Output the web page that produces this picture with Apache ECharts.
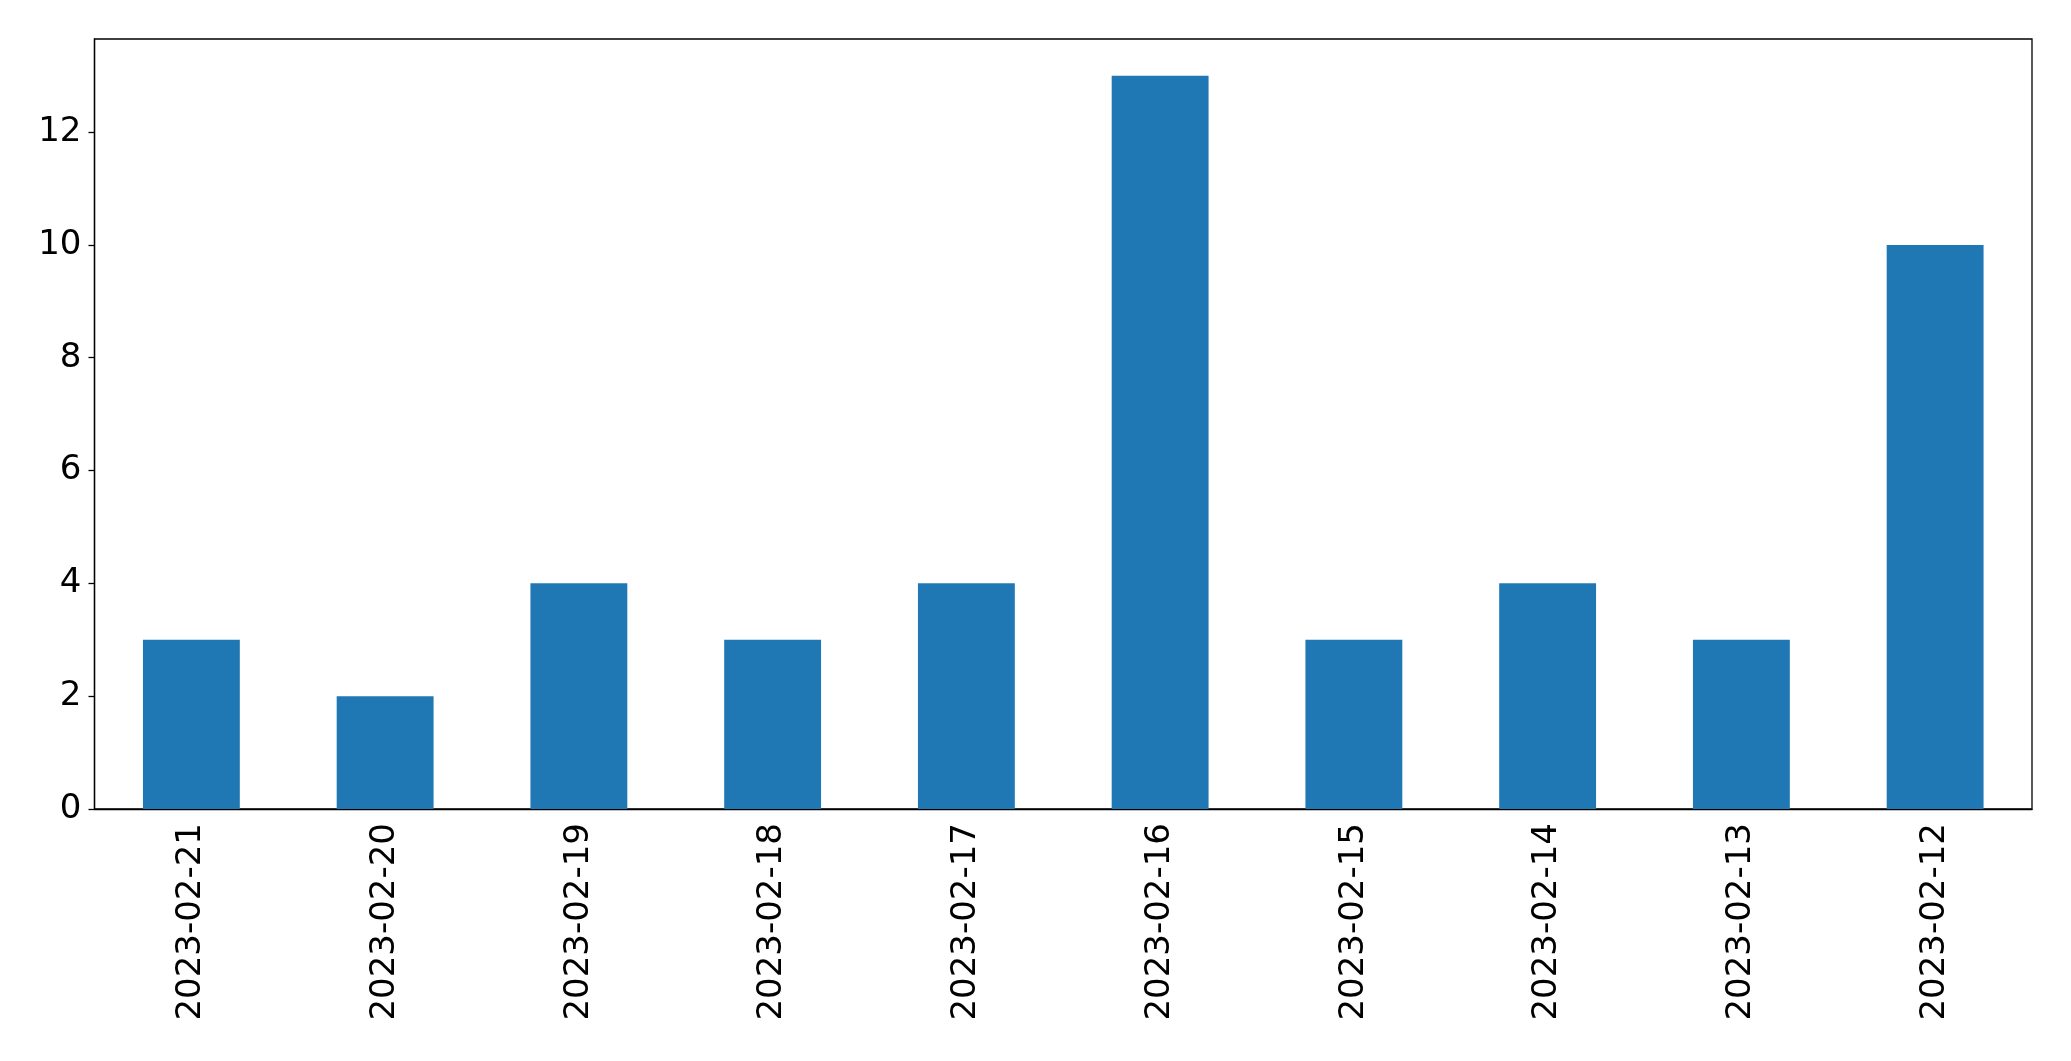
<!DOCTYPE html>
<html>
<head>
<meta charset="utf-8">
<script src="https://cdn.jsdelivr.net/npm/echarts@6/dist/echarts.min.js"></script>
<style>
html,body{margin:0;padding:0;background:#fff;}
#chart{width:2071px;height:1061px;}
</style>
</head>
<body>
<div id="chart"></div>
<script>
const categories = ['2023-02-21','2023-02-20','2023-02-19','2023-02-18','2023-02-17','2023-02-16','2023-02-15','2023-02-14','2023-02-13','2023-02-12'];
const values = [3, 2, 4, 3, 4, 13, 3, 4, 3, 10];
const yTicks = [0, 2, 4, 6, 8, 10, 12];

const chart = echarts.init(document.getElementById('chart'));
chart.setOption({
  animation: false,
  backgroundColor: '#fff',
  grid: {
    left: 94.5, right: 39, top: 39, bottom: 252,
    show: true, borderColor: '#000', borderWidth: 1.3, backgroundColor: 'transparent'
  },
  xAxis: {
    type: 'category',
    data: categories,
    boundaryGap: true,
    axisLine: { lineStyle: { color: '#000', width: 1.3 } },
    axisTick: { alignWithLabel: true, length: 6, lineStyle: { color: '#000', width: 1.3 } },
    axisLabel: {
      rotate: 90, color: '#000', fontSize: 34, fontFamily: 'DejaVu Sans', margin: 14, interval: 0
    },
    splitLine: { show: false }
  },
  yAxis: {
    type: 'value',
    min: 0, max: 13.65,
    axisLine: { show: true, lineStyle: { color: '#000', width: 1.3 } },
    axisTick: { show: true, length: 6, customValues: yTicks, lineStyle: { color: '#000', width: 1.3 } },
    axisLabel: { color: '#000', fontSize: 34, fontFamily: 'DejaVu Sans', margin: 13, customValues: yTicks },
    splitLine: { show: false }
  },
  series: [{
    type: 'bar',
    data: values,
    barWidth: '50%',
    itemStyle: { color: '#1f77b4' }
  }]
});
</script>
</body>
</html>
